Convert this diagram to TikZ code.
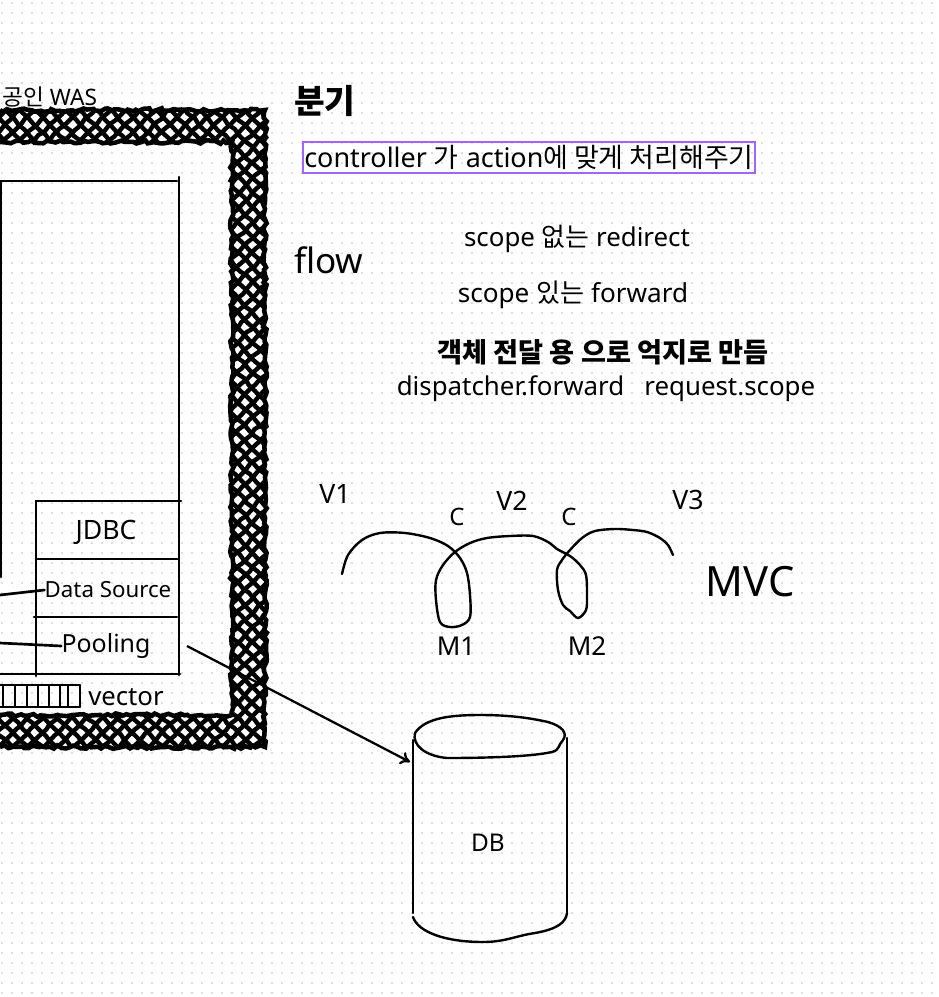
\documentclass[tikz,border=0pt]{standalone}
\usepackage{fontspec}
\setmainfont{Noto Sans}
\newfontfamily\kr{Noto Sans CJK KR}
\usetikzlibrary{arrows.meta,decorations.pathmorphing}
\definecolor{dotcol}{RGB}{222,222,222}
\definecolor{boxpurple}{RGB}{160,100,255}
\newcommand{\fs}[1]{\fontsize{#1}{#1}\selectfont}
\begin{document}
\begin{tikzpicture}[x=0.75pt,y=-0.75pt,
  txt/.style={inner sep=0pt, text=black},
  ln/.style={line width=2pt, line cap=round},
  hand/.style={line width=1.8pt, line cap=round, line join=round}]
\useasboundingbox (0,0) rectangle (939,997);
\fill[white] (0,0) rectangle (939,997);
% dot grid
\foreach \yy in {3.3,13.3,...,996}
  \draw[dotcol, line width=1.5pt, dash pattern=on 1.5pt off 6pt] (0.7,\yy) -- (939,\yy);

% hatched WAS border
\pgfmathsetseed{7}
\begin{scope}
  \path[clip] (0,109) -- (266,109) -- (266,748) -- (0,748) -- (0,714) -- (231,714) -- (231,143) -- (0,143) -- cycle;
  \fill[white] (0,100) rectangle (270,760);
  \foreach \c in {-765,-750,...,170}
    \draw[black, line width=3.3pt, decorate, decoration={random steps, segment length=6pt, amplitude=0.8pt}] (\c+rand*1.5,0) -- (\c+800,800);
  \foreach \d in {100,115,...,1020}
    \draw[black, line width=3.3pt, decorate, decoration={random steps, segment length=6pt, amplitude=0.8pt}] (\d+rand*1.5,0) -- (\d-800,800);
\end{scope}
\draw[black, line width=3.4pt, decorate, decoration={random steps, segment length=3pt, amplitude=1.4pt}]
  (0,110) -- (265,110) -- (265,747) -- (0,747);
\draw[black, line width=3.4pt, decorate, decoration={random steps, segment length=3pt, amplitude=1.4pt}]
  (0,715) -- (232,715) -- (232,142) -- (0,142);
\node[txt, anchor=west, font=\fs{17}] (was) at (2,97) {{\kr 공인} WAS};

% inner box
\draw[ln] (1,577) -- (1,181) -- (177,181);
\draw[ln] (179,177) -- (179,675);
% JDBC stack
\draw[ln] (36,676) -- (36,501) -- (181,501);
\draw[ln] (36,559) -- (179,559);
\draw[ln] (34,617) -- (177,617);
\draw[ln] (0,674) -- (180,674);
\node[txt, font=\fs{20}] (jdbc) at (106,532) {JDBC};
\node[txt, font=\fs{16.7}] (ds) at (108,590) {Data Source};
\node[txt, font=\fs{18.7}] (pool) at (106,646) {Pooling};
\coordinate (dsl) at (0,595);
\coordinate (pl) at (0,643);
\draw[ln] (dsl) -- (ds.west);
\draw[ln] (pl) -- (pool.west);
% vector
\draw[ln] (0,685) -- (80,685);
\draw[ln] (0,707) -- (80,707);
\foreach \vx in {3,15,27,38,49,60,68,80}
  \draw[line width=1.6pt] (\vx,685) -- (\vx,707);
\node[txt, anchor=west, font=\fs{19.3}] (vec) at (88,697) {vector};

% arrow to DB
\coordinate (pa) at (187,646);
\coordinate (dbin) at (410,762);
\draw[line width=1.7pt, -{To[length=7pt,width=10pt]}] (pa) -- (dbin);

% DB cylinder
\draw[hand] (415,733) .. controls (425,718) and (450,715) .. (480,715)
  .. controls (510,715) and (530,718) .. (548,722)
  .. controls (562,726) and (568,733) .. (563,740)
  .. controls (558,745) and (560,750) .. (552,752)
  .. controls (530,757) and (480,758) .. (447,758)
  .. controls (425,756) and (412,745) .. (415,733);
\draw[hand] (413,740) -- (413,913);
\draw[hand] (567,738) -- (567,912);
\draw[hand] (413,917) .. controls (418,932) and (445,942) .. (483,942)
  .. controls (505,942) and (515,936) .. (535,933)
  .. controls (558,929) and (566,922) .. (567,913);
\node[txt, font=\fs{18.3}] (db) at (488,843) {DB};

% right text
\node[txt, anchor=west, font=\fs{25}\kr\bfseries] (bungi) at (294,101) {분기};
\node[draw=boxpurple, line width=1.5pt, minimum width=339pt, minimum height=23.25pt, inner sep=0pt,
  font=\fs{20.2}] (ctrl) at (529,157.5) {controller {\kr 가} action{\kr 에 맞게 처리해주기}};
\node[txt, anchor=west, font=\fs{26.3}] (flow) at (294,260) {flow};
\node[txt, font=\fs{19.4}] (redir) at (577,239) {scope {\kr 없는} redirect};
\node[txt, font=\fs{19.6}] (fwd) at (573,295) {scope {\kr 있는} forward};
\node[txt, font=\fs{20.4}\kr\bfseries] (obj) at (603,352) {객체 전달 용 으로 억지로 만듬};
\node[txt, font=\fs{19.4}] (disp) at (606,389) {dispatcher.forward\ \ \ request.scope};

% MVC sketch
\node[txt, font=\fs{20}] (v1) at (335,494) {V1};
\node[txt, font=\fs{20}] (v2) at (512,501) {V2};
\node[txt, font=\fs{20}] (v3) at (688,500) {V3};
\node[txt, font=\fs{18}] (c1) at (457,517) {C};
\node[txt, font=\fs{18}] (c2) at (569,517) {C};
\node[txt, font=\fs{19.5}] (m1) at (456,646) {M1};
\node[txt, font=\fs{19.5}] (m2) at (587,646) {M2};
\node[txt, font=\fs{31.3}] (mvc) at (750,582) {MVC};
\draw[hand] plot[smooth, tension=0.55] coordinates {
 (342,574) (348,555) (362,540) (380,533) (405,533) (430,538) (448,546) (460,558) (467,573)
 (470,595) (470,617) (462,625) (450,627) (440,622) (436,600) (436,580) (443,565) (455,552)
 (470,543) (487,538) (510,536) (533,536) (548,542) (557,549) (570,556) (580,565) (586,575)
 (587,595) (586,610) (578,618) (570,611) (563,605) (558,590) (557,570) (562,560) (570,550)
 (582,538) (595,531) (615,529) (633,530) (647,532) (660,538) (668,545) (673,555)};
\end{tikzpicture}
\end{document}
